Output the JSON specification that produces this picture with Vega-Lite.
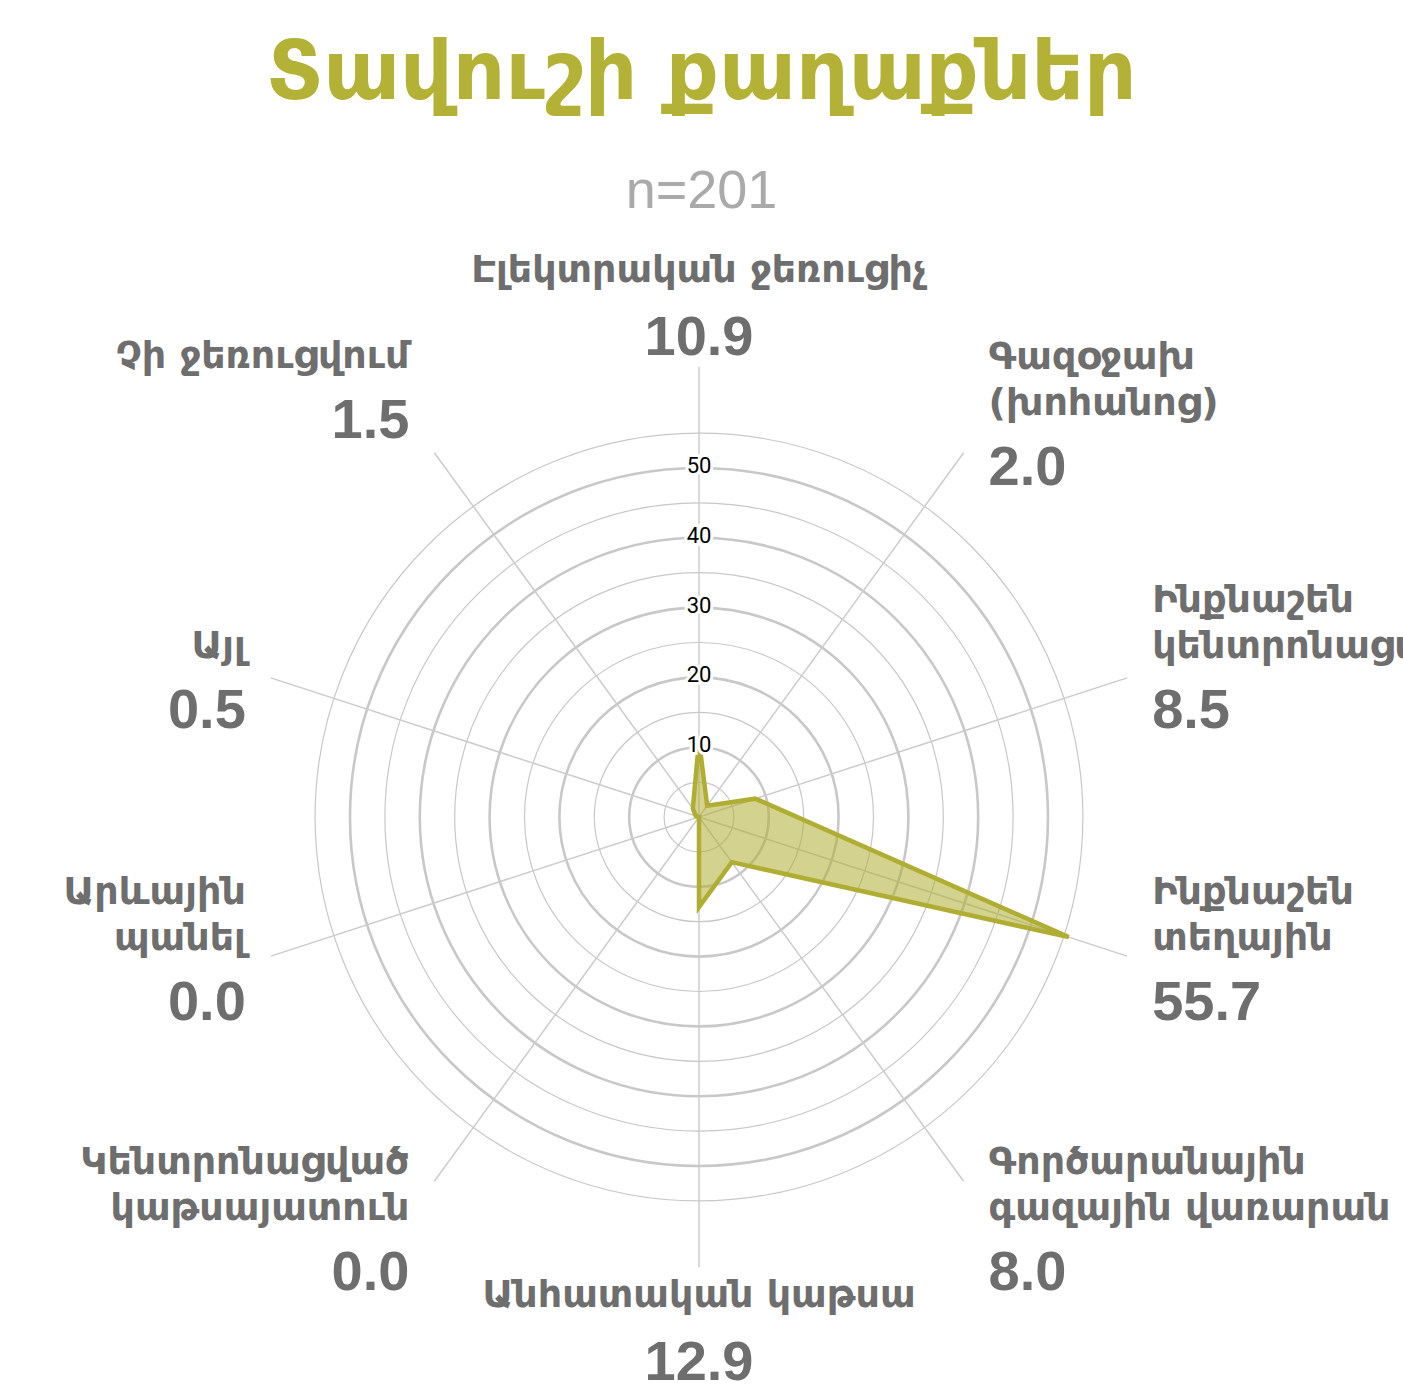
{
  "$schema": "https://vega.github.io/schema/vega-lite/v6.json",
  "width": 1403,
  "height": 1158,
  "autosize": "none",
  "padding": {"top": 230, "left": 0, "right": 0, "bottom": 0},
  "background": "white",
  "config": {"view": {"stroke": null}},
  "title": {
    "text": "Տավուշի քաղաքներ",
    "subtitle": "n=201",
    "anchor": "middle",
    "frame": "group",
    "font": "DejaVu Sans",
    "fontSize": 82,
    "fontWeight": "bold",
    "color": "#b3b136",
    "subtitleFont": "Liberation Sans",
    "subtitleFontSize": 54,
    "subtitleFontWeight": "normal",
    "subtitleColor": "#aaaaaa",
    "subtitlePadding": 49,
    "offset": 10
  },
  "datasets": {
    "cats": [
      {"idx": 0, "label": ["Էլեկտրական ջեռուցիչ"], "value": 10.9},
      {"idx": 1, "label": ["Գազօջախ", "(խոհանոց)"], "value": 2.0},
      {"idx": 2, "label": ["Ինքնաշեն", "կենտրոնացված"], "value": 8.5},
      {"idx": 3, "label": ["Ինքնաշեն", "տեղային"], "value": 55.7},
      {"idx": 4, "label": ["Գործարանային", "գազային վառարան"], "value": 8.0},
      {"idx": 5, "label": ["Անհատական կաթսա"], "value": 12.9},
      {"idx": 6, "label": ["Կենտրոնացված", "կաթսայատուն"], "value": 0.0},
      {"idx": 7, "label": ["Արևային", "պանել"], "value": 0.0},
      {"idx": 8, "label": ["Այլ"], "value": 0.5},
      {"idx": 9, "label": ["Չի ջեռուցվում"], "value": 1.5}
    ],
    "rings": [
      {"r": 5}, {"r": 10}, {"r": 15}, {"r": 20}, {"r": 25}, {"r": 30},
      {"r": 35}, {"r": 40}, {"r": 45}, {"r": 50}, {"r": 55}
    ]
  },
  "layer": [
    {
      "data": {"name": "rings"},
      "mark": {"type": "arc", "filled": false, "stroke": "#c8c8c8", "theta": 0, "theta2": 6.2832},
      "encoding": {
        "x": {"datum": 0, "type": "quantitative", "scale": {"domain": [-100.14, 100.86], "nice": false, "zero": false}, "axis": null},
        "y": {"datum": 0, "type": "quantitative", "scale": {"domain": [-81.81, 84.1], "nice": false, "zero": false}, "axis": null},
        "radius": {"field": "r", "type": "quantitative", "stack": null, "scale": {"type": "linear", "domain": [0, 55], "range": [0, 383.9], "zero": true}, "legend": null},
        "strokeWidth": {"condition": {"test": "datum.r % 10 == 0", "value": 2.6}, "value": 1.2}
      }
    },
    {
      "data": {"name": "cats"},
      "transform": [
        {"calculate": "datum.idx * PI / 5", "as": "a"},
        {"calculate": "64.5 * sin(datum.a)", "as": "sx"},
        {"calculate": "64.5 * cos(datum.a)", "as": "sy"},
        {"calculate": "0", "as": "z"}
      ],
      "mark": {"type": "rule", "stroke": "#cccccc", "strokeWidth": 1.5},
      "encoding": {
        "x": {"field": "z", "type": "quantitative", "scale": {"domain": [-100.14, 100.86], "nice": false, "zero": false}, "axis": null},
        "y": {"field": "z", "type": "quantitative", "scale": {"domain": [-81.81, 84.1], "nice": false, "zero": false}, "axis": null},
        "x2": {"field": "sx"},
        "y2": {"field": "sy"}
      }
    },
    {
      "data": {"name": "cats"},
      "transform": [
        {"calculate": "datum.idx * PI / 5", "as": "a"},
        {"calculate": "datum.value * sin(datum.a)", "as": "px"},
        {"calculate": "datum.value * cos(datum.a)", "as": "py"}
      ],
      "mark": {"type": "line", "interpolate": "linear-closed", "stroke": "#b0ad33", "strokeWidth": 4.5, "fill": "#b0ad33", "fillOpacity": 0.55, "strokeJoin": "miter"},
      "encoding": {
        "x": {"field": "px", "type": "quantitative", "scale": {"domain": [-100.14, 100.86], "nice": false, "zero": false}, "axis": null},
        "y": {"field": "py", "type": "quantitative", "scale": {"domain": [-81.81, 84.1], "nice": false, "zero": false}, "axis": null},
        "order": {"field": "idx", "type": "quantitative"}
      }
    },
    {
      "data": {"name": "rings"},
      "transform": [{"filter": "datum.r % 10 == 0 && datum.r <= 50"}],
      "mark": {"type": "text", "align": "center", "baseline": "middle", "font": "Roboto", "fontSize": 22, "stroke": "white", "strokeWidth": 6, "fill": "white", "dy": -2},
      "encoding": {
        "x": {"datum": 0, "type": "quantitative", "scale": {"domain": [-100.14, 100.86], "nice": false, "zero": false}, "axis": null},
        "y": {"field": "r", "type": "quantitative", "scale": {"domain": [-81.81, 84.1], "nice": false, "zero": false}, "axis": null},
        "text": {"field": "r", "type": "quantitative"}
      }
    },
    {
      "data": {"name": "rings"},
      "transform": [{"filter": "datum.r % 10 == 0 && datum.r <= 50"}],
      "mark": {"type": "text", "align": "center", "baseline": "middle", "font": "Roboto", "fontSize": 22, "fill": "#000000", "dy": -2},
      "encoding": {
        "x": {"datum": 0, "type": "quantitative", "scale": {"domain": [-100.14, 100.86], "nice": false, "zero": false}, "axis": null},
        "y": {"field": "r", "type": "quantitative", "scale": {"domain": [-81.81, 84.1], "nice": false, "zero": false}, "axis": null},
        "text": {"field": "r", "type": "quantitative"}
      }
    },
    {
      "data": {"name": "cats"},
      "transform": [
        {"filter": "datum.idx != 0 && datum.idx != 5"},
        {"calculate": "datum.idx * PI / 5", "as": "a"},
        {"calculate": "cos(datum.a)", "as": "c"},
        {"calculate": "64.5 * sin(datum.a)", "as": "lx"},
        {"calculate": "(468.2 * datum.c + 44.8 * pow(datum.c, 3) - 54.7 - 24.15 * datum.c * datum.c + (datum.c > 0.5 ? (2 - length(datum.label)) * 47 : 0)) / 6.98", "as": "vy"},
        {"calculate": "datum.vy + (70 + (length(datum.label) - 1) * 46) / 6.98", "as": "ly"}
      ],
      "layer": [
        {
          "transform": [{"filter": "datum.idx < 5"}],
          "mark": {"type": "text", "align": "left", "baseline": "alphabetic", "dx": 25, "font": "Liberation Sans", "fontWeight": "bold", "fontSize": 56, "fill": "#6e6e6e"},
          "encoding": {
            "x": {"field": "lx", "type": "quantitative", "scale": {"domain": [-100.14, 100.86], "nice": false, "zero": false}, "axis": null},
            "y": {"field": "vy", "type": "quantitative", "scale": {"domain": [-81.81, 84.1], "nice": false, "zero": false}, "axis": null},
            "text": {"field": "value", "type": "quantitative", "format": ".1f"}
          }
        },
        {
          "transform": [{"filter": "datum.idx < 5"}],
          "mark": {"type": "text", "align": "left", "baseline": "alphabetic", "dx": 25, "font": "DejaVu Sans", "fontWeight": "bold", "fontSize": 38, "lineHeight": 46, "fill": "#6e6e6e"},
          "encoding": {
            "x": {"field": "lx", "type": "quantitative", "scale": {"domain": [-100.14, 100.86], "nice": false, "zero": false}, "axis": null},
            "y": {"field": "ly", "type": "quantitative", "scale": {"domain": [-81.81, 84.1], "nice": false, "zero": false}, "axis": null},
            "text": {"field": "label", "type": "nominal"}
          }
        },
        {
          "transform": [{"filter": "datum.idx > 5"}],
          "mark": {"type": "text", "align": "right", "baseline": "alphabetic", "dx": -25, "font": "Liberation Sans", "fontWeight": "bold", "fontSize": 56, "fill": "#6e6e6e"},
          "encoding": {
            "x": {"field": "lx", "type": "quantitative", "scale": {"domain": [-100.14, 100.86], "nice": false, "zero": false}, "axis": null},
            "y": {"field": "vy", "type": "quantitative", "scale": {"domain": [-81.81, 84.1], "nice": false, "zero": false}, "axis": null},
            "text": {"field": "value", "type": "quantitative", "format": ".1f"}
          }
        },
        {
          "transform": [{"filter": "datum.idx > 5"}],
          "mark": {"type": "text", "align": "right", "baseline": "alphabetic", "dx": -25, "font": "DejaVu Sans", "fontWeight": "bold", "fontSize": 38, "lineHeight": 46, "fill": "#6e6e6e"},
          "encoding": {
            "x": {"field": "lx", "type": "quantitative", "scale": {"domain": [-100.14, 100.86], "nice": false, "zero": false}, "axis": null},
            "y": {"field": "ly", "type": "quantitative", "scale": {"domain": [-81.81, 84.1], "nice": false, "zero": false}, "axis": null},
            "text": {"field": "label", "type": "nominal"}
          }
        }
      ]
    },
    {
      "data": {"name": "cats"},
      "transform": [
        {"filter": "datum.idx == 0 || datum.idx == 5"},
        {"calculate": "datum.idx * PI / 5", "as": "a"},
        {"calculate": "0 * sin(datum.a)", "as": "lx"},
        {"calculate": "(512.5 * cos(datum.a) - 50.5) / 6.98", "as": "vy"},
        {"calculate": "datum.vy + 73 / 6.98", "as": "ly"}
      ],
      "layer": [
        {
          "mark": {"type": "text", "align": "center", "baseline": "alphabetic", "font": "Liberation Sans", "fontWeight": "bold", "fontSize": 56, "fill": "#6e6e6e"},
          "encoding": {
            "x": {"field": "lx", "type": "quantitative", "scale": {"domain": [-100.14, 100.86], "nice": false, "zero": false}, "axis": null},
            "y": {"field": "vy", "type": "quantitative", "scale": {"domain": [-81.81, 84.1], "nice": false, "zero": false}, "axis": null},
            "text": {"field": "value", "type": "quantitative", "format": ".1f"}
          }
        },
        {
          "mark": {"type": "text", "align": "center", "baseline": "alphabetic", "font": "DejaVu Sans", "fontWeight": "bold", "fontSize": 38, "fill": "#6e6e6e"},
          "encoding": {
            "x": {"field": "lx", "type": "quantitative", "scale": {"domain": [-100.14, 100.86], "nice": false, "zero": false}, "axis": null},
            "y": {"field": "ly", "type": "quantitative", "scale": {"domain": [-81.81, 84.1], "nice": false, "zero": false}, "axis": null},
            "text": {"field": "label", "type": "nominal"}
          }
        }
      ]
    }
  ]
}
